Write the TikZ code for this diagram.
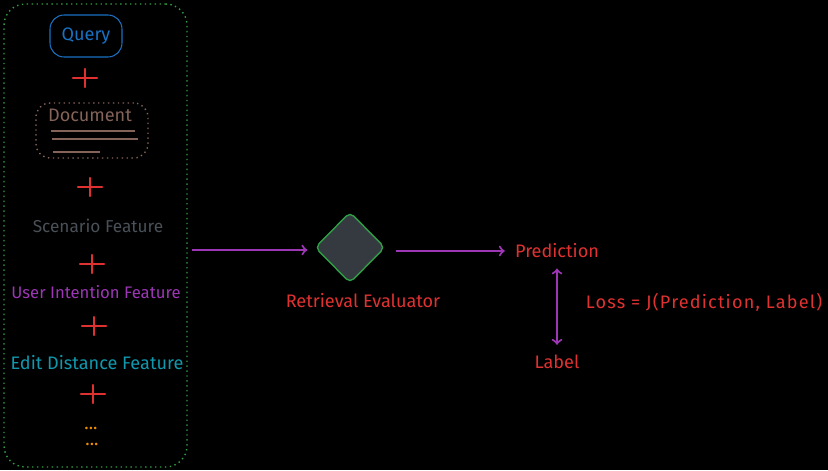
\documentclass[tikz,border=0pt]{standalone}
\usepackage{fontspec}
\setmainfont{Fira Sans}
\usetikzlibrary{shapes.geometric}

\definecolor{hred}{HTML}{E03131}
\definecolor{hblue}{HTML}{1971C2}
\definecolor{hbrown}{HTML}{846358}
\definecolor{hgray}{HTML}{495057}
\definecolor{hpurple}{HTML}{9C36B5}
\definecolor{hcyan}{HTML}{1098AD}
\definecolor{horange}{HTML}{F08C00}
\definecolor{hgreen}{HTML}{2F9E44}
\definecolor{hdark}{HTML}{343A40}

\tikzset{
  txt/.style={inner sep=0pt, font=\fontsize{10.3}{12}\selectfont},
  plusmark/.style={hred, very thick, line cap=round},
  flow/.style={hpurple, very thick, ->},
}

\begin{document}
\begin{tikzpicture}[x=0.02cm, y=-0.02cm]
      % Background:
      \fill[black] (0,0) rectangle (828,470);
      % Feature group:
      \node[draw=hgreen, thick, dotted, rounded corners=12, minimum width=3.66cm, minimum height=9.26cm] (group) at (95.5,235.5) {};
      \node[draw=hblue, semithick, rounded corners=8, minimum width=1.44cm, minimum height=0.84cm, txt, text=hblue] (query) at (86,36) {Query};
      \node[draw=hbrown, thick, dotted, rounded corners=8, minimum width=2.24cm, minimum height=1.1cm] (doc) at (92,130.5) {};
      \node[txt, text=hbrown] (doctitle) at (90,115) {Document};
      \draw[hbrown, thick] (51,131) -- (135,131) (52,139) -- (138,139) (53,152) -- (100,152);
      \foreach \px/\py in {85/78, 90/187, 92/264, 94/326, 93/394}
        \draw[plusmark] (\px-12,\py) -- (\px+12,\py) (\px,\py-9) -- (\px,\py+9);
      \node[txt, text=hgray, font=\fontsize{9.8}{12}\selectfont] (scenario) at (98,226) {Scenario Feature};
      \node[txt, text=hpurple, font=\fontsize{9.5}{12}\selectfont] (intent) at (96,292) {User Intention Feature};
      \node[txt, text=hcyan] (editdist) at (97,363) {Edit Distance Feature};
      \node[txt, text=horange] (more1) at (91,428) {...};
      \node[txt, text=horange] (more2) at (92,444) {...};
      % Evaluator and loss:
      \node[diamond, draw=hgreen, thick, fill=hdark, rounded corners=3, minimum width=1.4cm, minimum height=1.42cm, inner sep=0pt] (evaluator) at (350,247.5) {};
      \node[txt, text=hred] (evalname) at (363,301) {Retrieval Evaluator};
      \node[txt, text=hred] (pred) at (557,251) {Prediction};
      \node[txt, text=hred] (label) at (557,362) {Label};
      \node[txt, text=hred, font=\fontsize{10.3}{12}\selectfont\addfontfeatures{LetterSpace=6.5}] (loss) at (704,302) {Loss = J(Prediction, Label)};
      \coordinate (featout) at (192,250);
      \draw[flow, shorten >=0.14cm] (featout) -- (evaluator.west |- featout);
      \draw[flow, shorten <=0.2cm, shorten >=0.2cm] (evaluator.east |- pred) -- (pred.west);
      \draw[flow, <->, shorten <=0.2cm, shorten >=0.2cm] (pred.south) -- (label.north);
    \end{tikzpicture}
\end{document}
